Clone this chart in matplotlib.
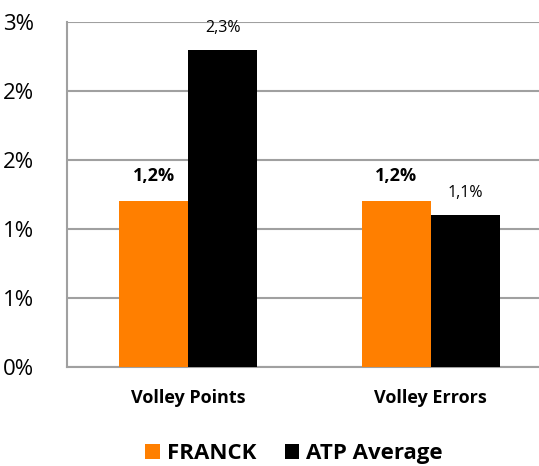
import numpy as np
import matplotlib.pyplot as plt

categories = ["Volley Points", "Volley Errors"]
franck = [1.2, 1.2]
atp = [2.3, 1.1]
franck_labels = ["1,2%", "1,2%"]
atp_labels = ["2,3%", "1,1%"]
yticks = [0, 0.5, 1.0, 1.5, 2.0, 2.5]
ytick_labels = ["0%", "1%", "1%", "2%", "2%", "3%"]

plt.rcParams['font.family'] = ['Open Sans', 'DejaVu Sans']

fig = plt.figure(figsize=(5.39, 4.66), dpi=100)
ax = fig.add_axes([0.1243, 0.2124, 0.8998, 0.7403])

x = np.arange(len(categories))
w = 0.284
orange = "#FF7F00"
b1 = ax.bar(x - w / 2, franck, w, color=orange, label="FRANCK", zorder=3)
b2 = ax.bar(x + w / 2, atp, w, color="black", label="ATP Average", zorder=3)

for xi, v, t in zip(x, franck, franck_labels):
    ax.annotate(t, (xi - w / 2, v), xytext=(0, 12), textcoords="offset points",
                ha="center", va="bottom", fontsize=13, fontweight="bold")
for xi, v, t in zip(x, atp, atp_labels):
    ax.annotate(t, (xi + w / 2, v), xytext=(0, 10), textcoords="offset points",
                ha="center", va="bottom", fontsize=11.5)

ax.set_xlim(-0.5, 1.5)
ax.set_ylim(0, 2.5)
ax.set_yticks(yticks)
ax.set_yticklabels(ytick_labels, fontsize=16)
ax.set_xticks(x)
ax.set_xticklabels(categories, fontsize=13, fontweight="bold")
ax.tick_params(axis="both", length=0)
ax.tick_params(axis="y", pad=24)
ax.tick_params(axis="x", pad=16)
ax.grid(axis="y", color="#A0A0A0", linewidth=1.5, zorder=0)
for s in ["top", "right"]:
    ax.spines[s].set_visible(False)
for s in ["left", "bottom"]:
    ax.spines[s].set_color("#A0A0A0")
    ax.spines[s].set_linewidth(1.5)

fig.legend(handles=[b1, b2], loc="center", bbox_to_anchor=(0.5455, 0.026),
           ncol=2, frameon=False, prop={"size": 16, "weight": "bold"},
           handlelength=0.65, handleheight=0.65, handletextpad=0.3, columnspacing=1.3)

fig.savefig("out.png", dpi=100)
